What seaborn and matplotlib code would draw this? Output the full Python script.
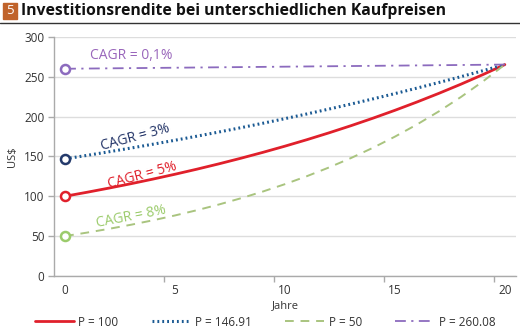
import matplotlib
matplotlib.use("Agg")
import matplotlib.pyplot as plt
import seaborn as sns
import pandas as pd
from matplotlib.patches import Rectangle
from matplotlib.lines import Line2D

years = list(range(21))
p100 = [100.00, 105.00, 110.25, 115.76, 121.55, 127.63, 134.01, 140.71, 147.75, 155.13,
        162.89, 171.03, 179.59, 188.56, 197.99, 207.89, 218.29, 229.20, 240.66, 252.70, 265.33]
p146 = [146.91, 151.32, 155.86, 160.53, 165.35, 170.31, 175.42, 180.68, 186.10, 191.68,
        197.44, 203.36, 209.46, 215.74, 222.22, 228.88, 235.75, 242.82, 250.11, 257.61, 265.34]
p50 = [50.00, 54.35, 59.08, 64.22, 69.81, 75.89, 82.49, 89.67, 97.48, 105.96,
       115.18, 125.21, 136.10, 147.95, 160.82, 174.82, 190.04, 206.57, 224.55, 244.10, 265.33]
p260 = [260.08, 260.34, 260.60, 260.86, 261.12, 261.38, 261.65, 261.91, 262.17, 262.43,
        262.69, 262.96, 263.22, 263.48, 263.75, 264.01, 264.27, 264.54, 264.80, 265.07, 265.33]
series_names = ["P = 100", "P = 146.91", "P = 50", "P = 260.08"]
cagr_labels = ["CAGR = 5%", "CAGR = 3%", "CAGR = 8%", "CAGR = 0,1%"]
yticks = [0, 50, 100, 150, 200, 250, 300]
xticks = [0, 5, 10, 15, 20]
title = "Investitionsrendite bei unterschiedlichen Kaufpreisen"

sns.set_theme(style="white")
plt.rcParams['font.family'] = ['Open Sans', 'DejaVu Sans']

fig = plt.figure(figsize=(5.2, 3.3), dpi=100)
ax = fig.add_axes([0.104, 0.164, 0.888, 0.724])

colors = ["#E0202B", "#1B5A93", "#A9C47F", "#8C6BBE"]
marker_colors = ["#E0202B", "#243A6B", "#9BCB6B", "#8C6BBE"]
styles = [dict(lw=2.0, ls="-"),
          dict(lw=2.2, ls=(0, (0.6, 1.0))),
          dict(lw=1.4, ls=(0, (4.5, 3.5))),
          dict(lw=1.3, ls=(0, (6, 3, 1.2, 3)))]
data = [p100, p146, p50, p260]

handles = []
for vals, name, c, st, mc in zip(data, series_names, colors, styles, marker_colors):
    df = pd.DataFrame({"Jahr": years, "Wert": vals})
    sns.lineplot(data=df, x="Jahr", y="Wert", ax=ax, color=c, linewidth=st["lw"],
                 linestyle=st["ls"], zorder=3)
    ax.plot(years[0], vals[0], marker="o", ms=6.5, mfc="white", mec=mc, mew=1.8,
            ls="none", zorder=4)
    handles.append(Line2D([0], [0], color=c, lw=st["lw"], ls=st["ls"]))

ax.set_xlim(-0.5, 20.5)
ax.set_ylim(0, 300)
ax.set_yticks(yticks)
ax.set_xticks(xticks)
ax.set_xticks([x - 0.5 for x in xticks[1:]], minor=True)
ax.tick_params(axis="x", which="major", length=0, labelsize=8.5, colors="#333333", pad=6)
ax.tick_params(axis="x", which="minor", length=4, width=1, color="#AAAAAA", direction="out", bottom=True)
ax.tick_params(axis="y", length=4, width=1, color="#AAAAAA", direction="out", left=True,
               labelsize=8.5, labelcolor="#333333", pad=3)
ax.grid(axis="y", color="#DDDDDD", lw=1)
ax.set_axisbelow(True)
for s in ["top", "right"]:
    ax.spines[s].set_visible(False)
for s in ["left", "bottom"]:
    ax.spines[s].set_color("#AAAAAA")
    ax.spines[s].set_linewidth(1)
ax.set_xlabel("Jahre", fontsize=8, color="#333333", labelpad=2)
ax.set_ylabel("US$", fontsize=8, color="#333333", labelpad=4)

# CAGR annotations
ax.text(3.0, 267, cagr_labels[3], color="#9966BB", fontsize=10, ha="center", va="bottom")
ax.text(3.2, 153, cagr_labels[1], color="#253669", fontsize=10, ha="center", va="bottom", rotation=15)
ax.text(3.5, 105, cagr_labels[0], color="#E0202B", fontsize=10, ha="center", va="bottom", rotation=15)
ax.text(3.0, 56, cagr_labels[2], color="#9BCB6B", fontsize=10, ha="center", va="bottom", rotation=11)

# Title
fig.patches.append(Rectangle((3 / 520, 1 - 19 / 330), 14 / 520, 16 / 330, transform=fig.transFigure,
                             color="#C0632B", zorder=1))
fig.text(10 / 520, 1 - 11 / 330, "5", color="white", fontsize=9.5, ha="center", va="center", zorder=10)
fig.text(21 / 520, 1 - 11 / 330, title, fontsize=11.3, fontweight="bold", color="#111111",
         ha="left", va="center")
fig.add_artist(Line2D([0, 1], [1 - 22.5 / 330, 1 - 22.5 / 330], transform=fig.transFigure,
                      color="#333333", lw=1))

fig.legend(handles, series_names, loc="center", bbox_to_anchor=(0.51, 1 - 322 / 330), ncol=4,
           frameon=False, fontsize=8.5, handlelength=3.3, columnspacing=2.8, handletextpad=0.4,
           labelcolor="#333333")

fig.savefig("out.png", dpi=100)
